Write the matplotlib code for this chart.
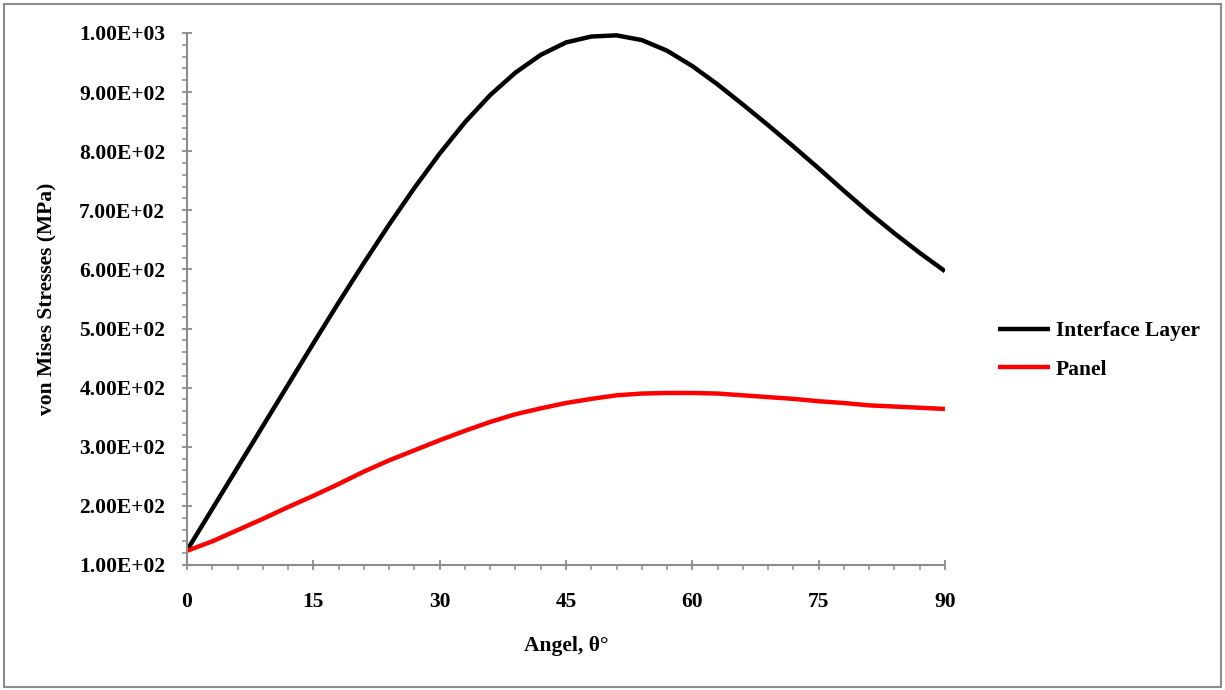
import numpy as np
import matplotlib
matplotlib.use("Agg")
import matplotlib.pyplot as plt
from matplotlib.ticker import MultipleLocator, FuncFormatter
from matplotlib.patches import Rectangle

# Estilo tipo Excel: Times en negrita
plt.rcParams["font.family"] = ["Liberation Serif", "DejaVu Serif"]
plt.rcParams["font.weight"] = "bold"

# Datos
angulo = [0, 3, 6, 9, 12, 15, 18, 21, 24, 27, 30, 33, 36, 39, 42, 45,
          48, 51, 54, 57, 60, 63, 66, 69, 72, 75, 78, 81, 84, 87, 90]
interface_layer = [125, 195, 265, 335, 405, 475, 544, 611, 676, 738, 796,
                   849, 895, 933, 963, 984, 994, 996, 988, 970, 944, 913,
                   879, 844, 808, 771, 733, 696, 661, 628, 597]
panel = [124, 140, 159, 178, 198, 217, 237, 258, 277, 294, 311, 327, 342,
         355, 365, 374, 381, 387, 390, 391, 391, 390, 387, 384, 381, 377,
         374, 370, 368, 366, 364]

gris = "#8c8c8c"
fs = 15.5

fig = plt.figure(figsize=(12.25, 6.9), dpi=100)
ax = fig.add_axes([0.1527, 0.1812, 0.6187, 0.771])

ax.plot(angulo, interface_layer, color="black", lw=3.2, label="Interface Layer",
        solid_capstyle="butt", solid_joinstyle="round")
ax.plot(angulo, panel, color="red", lw=3.2, label="Panel",
        solid_capstyle="butt", solid_joinstyle="round")

ax.set_xlim(0, 90)
ax.set_ylim(100, 1000)
ax.xaxis.set_major_locator(MultipleLocator(15))
ax.xaxis.set_minor_locator(MultipleLocator(3))
ax.yaxis.set_major_locator(MultipleLocator(100))
ax.yaxis.set_minor_locator(MultipleLocator(20))
ax.yaxis.set_major_formatter(FuncFormatter(lambda v, p: f"{v:.2E}"))

for s in ["top", "right"]:
    ax.spines[s].set_visible(False)
for s in ["left", "bottom"]:
    ax.spines[s].set_color(gris)
    ax.spines[s].set_linewidth(1.5)

ax.tick_params(which="major", direction="inout", length=7.5, width=1.3,
               color=gris, labelsize=fs)
ax.tick_params(which="minor", direction="out", length=3.5, width=1.1, color=gris)
ax.tick_params(axis="x", which="major", pad=16)
ax.tick_params(axis="y", which="major", pad=12)
for lab in ax.get_xticklabels() + ax.get_yticklabels():
    lab.set_fontweight("bold")

ax.set_xlabel("Angel, θ°", fontsize=fs, fontweight="bold", labelpad=17)
ax.set_ylabel("von Mises Stresses (MPa)", fontsize=fs, fontweight="bold",
              labelpad=16)

fig.legend(loc="center left", bbox_to_anchor=(0.7985, 0.492), frameon=False,
           prop={"size": fs, "weight": "bold"}, handlelength=2.45,
           handletextpad=0.25, labelspacing=0.85)

# Marco exterior
fig.patches.append(Rectangle((0.003, 0.004), 0.994, 0.99, transform=fig.transFigure,
                             fill=False, edgecolor=gris, lw=1.5))

fig.savefig("out.png", dpi=100)
